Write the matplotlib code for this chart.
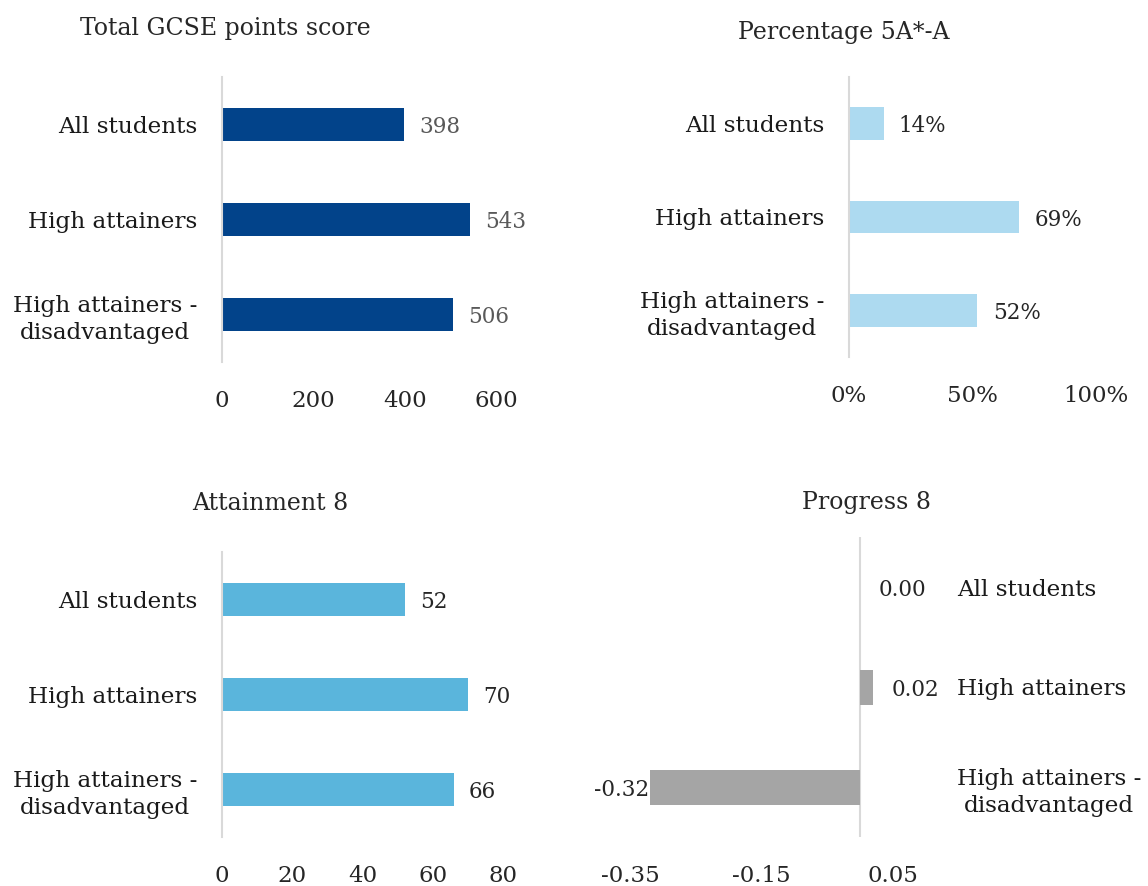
import matplotlib
matplotlib.use("Agg")
import matplotlib.pyplot as plt

plt.rcParams['font.family'] = ['DejaVu Serif']

categories = ["All students", "High attainers", "High attainers -\ndisadvantaged"]

gcse_points = [398, 543, 506]
pct_5a = [14, 69, 52]
attainment8 = [52, 70, 66]
progress8 = [0.00, 0.02, -0.32]

W, H = 1148, 886
fig = plt.figure(figsize=(W / 100, H / 100), dpi=100)

AXIS_GREY = "#d9d9d9"
TEXT = "#262626"


def px_axes(left, right, top, bottom):
    # build an axes from pixel edges of the reference
    return fig.add_axes([left / W, (H - bottom) / H, (right - left) / W, (bottom - top) / H])


def style(ax, xlim, ticks, ticklabels, side="left"):
    ax.set_xlim(*xlim)
    ax.set_ylim(2.5, -0.5)
    for s in ax.spines.values():
        s.set_visible(False)
    ax.set_xticks(ticks)
    ax.set_xticklabels(ticklabels, fontsize=16.5, color=TEXT)
    ax.set_yticks(range(len(categories)))
    ax.set_yticklabels(categories, fontsize=16.7, color="#1a1a1a")
    ax.tick_params(axis="x", length=0, pad=20)
    if side == "left":
        ax.spines["left"].set_visible(True)
        ax.spines["left"].set_color(AXIS_GREY)
        ax.spines["left"].set_linewidth(1.5)
        ax.tick_params(axis="y", length=0, pad=18)
    else:
        ax.yaxis.tick_right()
        ax.tick_params(axis="y", length=0, pad=46)
    for lab in ax.get_yticklabels():
        lab.set_multialignment("center")
        lab.set_linespacing(1.3)
    ax.patch.set_alpha(0)


def labels(ax, vals, fmt, color, offset=11):
    for i, v in enumerate(vals):
        if v < 0:
            ax.annotate(fmt(v), (v, i), xytext=(0, -2), textcoords="offset points",
                        ha="right", va="center", fontsize=15.5, color=color)
        else:
            ax.annotate(fmt(v), (v, i), xytext=(offset, -2), textcoords="offset points",
                        ha="left", va="center", fontsize=15.5, color=color)


# Total GCSE points score
ax1 = px_axes(222, 496, 77, 362)
ax1.barh(range(3), gcse_points, height=0.35, color="#02438a")
style(ax1, (0, 600), [0, 200, 400, 600], ["0", "200", "400", "600"])
labels(ax1, gcse_points, lambda v: f"{v}", "#595959")
fig.text(225 / W, 1 - 28 / H, "Total GCSE points score", ha="center", va="center", fontsize=17, color=TEXT)

# Percentage 5A*-A
ax2 = px_axes(849, 1096, 77, 357)
ax2.barh(range(3), pct_5a, height=0.35, color="#addaf0")
style(ax2, (0, 100), [0, 50, 100], ["0%", "50%", "100%"])
labels(ax2, pct_5a, lambda v: f"{v}%", TEXT)
fig.text(844 / W, 1 - 32 / H, "Percentage 5A*-A", ha="center", va="center", fontsize=17, color=TEXT)

# Attainment 8
ax3 = px_axes(222, 503, 552, 837)
ax3.barh(range(3), attainment8, height=0.35, color="#5ab5dc")
style(ax3, (0, 80), [0, 20, 40, 60, 80], ["0", "20", "40", "60", "80"])
labels(ax3, attainment8, lambda v: f"{v}", TEXT)
fig.text(270 / W, 1 - 503 / H, "Attainment 8", ha="center", va="center", fontsize=17, color=TEXT)

# Progress 8
ax4 = px_axes(630, 893, 537, 837)
ax4.barh(range(3), progress8, height=0.35, color="#a5a5a5")
style(ax4, (-0.35, 0.05), [-0.35, -0.15, 0.05], ["-0.35", "-0.15", "0.05"], side="right")
ax4.axvline(0, color=AXIS_GREY, lw=1.5, zorder=0)
labels(ax4, progress8, lambda v: f"{v:.2f}", TEXT, offset=13)
fig.text(866 / W, 1 - 503 / H, "Progress 8", ha="center", va="center", fontsize=17, color=TEXT)

fig.savefig("out.png", dpi=100)
